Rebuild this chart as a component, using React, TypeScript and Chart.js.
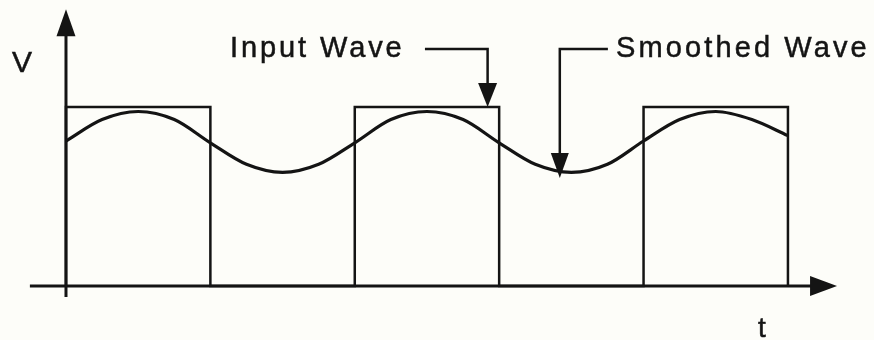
import React, { useEffect, useRef } from "react";
import { Chart, registerables } from "chart.js";

Chart.register(...registerables);

// Time (in half-periods) and normalized voltage
const squareT = [0, 0, 1, 1, 2, 2, 3, 3, 4, 4, 5, 5];
const squareV = [0, 1, 1, 0, 0, 1, 1, 0, 0, 1, 1, 0];

const smoothT = [0, 0.25, 0.5, 0.75, 1, 1.25, 1.5, 1.75, 2, 2.25, 2.5, 2.75, 3, 3.25, 3.5, 3.75, 4, 4.25, 4.5, 4.75, 5];
const smoothV = [0.81, 0.93, 0.975, 0.93, 0.8, 0.68, 0.635, 0.68, 0.8, 0.93, 0.975, 0.93, 0.8, 0.68, 0.635, 0.68, 0.81, 0.93, 0.975, 0.93, 0.84];

const axisLabels = ["V", "t"];
const seriesLabels = ["Input Wave", "Smoothed Wave"];

// Scale extents (data units)
const X_MIN = -0.457;
const X_MAX = 5.596;
const Y_MIN = -0.302;
const Y_MAX = 1.598;

const INK = "#141414";
const FONT = '"Liberation Sans", Arial, Helvetica, sans-serif';

function arrowHead(ctx: CanvasRenderingContext2D, tipX: number, tipY: number, dir: "up" | "down" | "right", len: number, half: number) {
  ctx.beginPath();
  if (dir === "up") {
    ctx.moveTo(tipX, tipY);
    ctx.lineTo(tipX - half, tipY + len);
    ctx.lineTo(tipX + half, tipY + len);
  } else if (dir === "down") {
    ctx.moveTo(tipX, tipY);
    ctx.lineTo(tipX - half, tipY - len);
    ctx.lineTo(tipX + half, tipY - len);
  } else {
    ctx.moveTo(tipX, tipY);
    ctx.lineTo(tipX - len, tipY - half);
    ctx.lineTo(tipX - len, tipY + half);
  }
  ctx.closePath();
  ctx.fill();
}

function drawText(ctx: CanvasRenderingContext2D, text: string, x: number, y: number) {
  ctx.fillText(text, x, y);
  ctx.strokeText(text, x, y);
}

const decorPlugin = {
  id: "decor",
  beforeDatasetsDraw(chart: any) {
    const ctx: CanvasRenderingContext2D = chart.ctx;
    const xs = chart.scales.x;
    const ys = chart.scales.y;
    const px = (v: number) => xs.getPixelForValue(v);
    const py = (v: number) => ys.getPixelForValue(v);
    ctx.save();
    ctx.strokeStyle = INK;
    ctx.fillStyle = INK;
    ctx.lineCap = "butt";
    // x axis
    ctx.lineWidth = 3;
    ctx.beginPath();
    ctx.moveTo(px(-0.25), py(0));
    ctx.lineTo(px(5.2), py(0));
    ctx.stroke();
    arrowHead(ctx, px(5.34), py(0), "right", 27, 10);
    // y axis
    ctx.beginPath();
    ctx.moveTo(px(0), py(-0.062));
    ctx.lineTo(px(0), py(1.45));
    ctx.stroke();
    arrowHead(ctx, px(0), py(1.547), "up", 27, 9.5);
    ctx.restore();
  },
  afterDatasetsDraw(chart: any) {
    const ctx: CanvasRenderingContext2D = chart.ctx;
    const xs = chart.scales.x;
    const ys = chart.scales.y;
    const px = (v: number) => xs.getPixelForValue(v);
    const py = (v: number) => ys.getPixelForValue(v);
    ctx.save();
    ctx.strokeStyle = INK;
    ctx.fillStyle = INK;
    ctx.lineWidth = 2.5;

    // Input Wave leader
    const elbowY = py(1.324);
    ctx.beginPath();
    ctx.moveTo(px(2.486), elbowY);
    ctx.lineTo(px(2.92), elbowY);
    ctx.lineTo(px(2.92), py(1.0) - 20);
    ctx.stroke();
    arrowHead(ctx, px(2.92), py(1.0), "down", 24, 9.5);

    // Smoothed Wave leader
    ctx.beginPath();
    ctx.moveTo(px(3.753), elbowY);
    ctx.lineTo(px(3.42), elbowY);
    ctx.lineTo(px(3.42), py(0.603) - 20);
    ctx.stroke();
    arrowHead(ctx, px(3.42), py(0.603), "down", 25, 9);

    // Texts
    ctx.lineWidth = 0.5;
    ctx.textBaseline = "alphabetic";
    ctx.textAlign = "left";
    ctx.font = `29px ${FONT}`;
    (ctx as any).letterSpacing = "2.9px";
    drawText(ctx, seriesLabels[0], px(1.136), py(1.279));
    (ctx as any).letterSpacing = "3.1px";
    drawText(ctx, seriesLabels[1], px(3.81), py(1.279));
    (ctx as any).letterSpacing = "0px";
    ctx.textAlign = "center";
    ctx.font = `30px ${FONT}`;
    drawText(ctx, axisLabels[0], px(-0.305), py(1.196));
    ctx.font = `28px ${FONT}`;
    drawText(ctx, axisLabels[1], px(4.82), py(-0.285));
    ctx.restore();
  },
};

export default function App() {
  const ref = useRef<HTMLCanvasElement | null>(null);
  useEffect(() => {
    document.body.style.margin = "0";
    document.body.style.background = "#fdfdf9";
    const canvas = ref.current;
    if (!canvas) return;
    const chart = new Chart(canvas, {
      type: "line",
      data: {
        datasets: [
          {
            label: seriesLabels[0],
            data: squareT.map((t, i) => ({ x: t, y: squareV[i] })),
            borderColor: INK,
            borderWidth: 2.5,
            pointRadius: 0,
            tension: 0,
            fill: false,
          },
          {
            label: seriesLabels[1],
            data: smoothT.map((t, i) => ({ x: t, y: smoothV[i] })),
            borderColor: INK,
            borderWidth: 3.2,
            pointRadius: 0,
            tension: 0.4,
            cubicInterpolationMode: "monotone",
            fill: false,
          },
        ],
      },
      options: {
        animation: false,
        responsive: false,
        devicePixelRatio: 1,
        layout: { padding: 0 },
        plugins: {
          legend: { display: false },
          tooltip: { enabled: false },
        },
        scales: {
          x: { type: "linear", min: X_MIN, max: X_MAX, display: false },
          y: { type: "linear", min: Y_MIN, max: Y_MAX, display: false },
        },
      },
      plugins: [decorPlugin],
    } as any);
    return () => chart.destroy();
  }, []);
  return (
    <div style={{ position: "absolute", left: 0, top: 0, width: 874, height: 340, background: "#fdfdf9" }}>
      <canvas ref={ref} width={874} height={340} />
    </div>
  );
}
